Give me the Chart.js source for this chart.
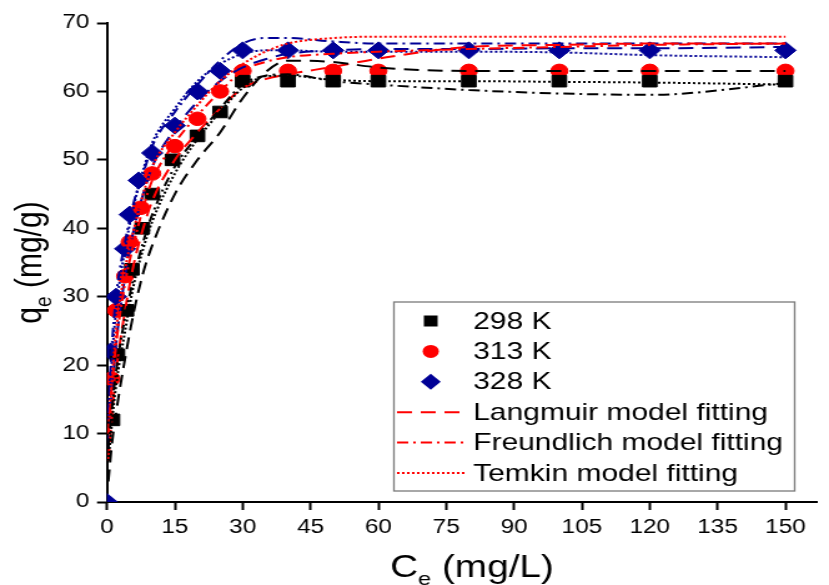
<!DOCTYPE html>
<html>
<head>
<meta charset="utf-8">
<script src="https://cdn.jsdelivr.net/npm/chart.js@4.4.0/dist/chart.umd.min.js"></script>
<style>
html,body{margin:0;padding:0;background:#fff;overflow:hidden}
#wrap{width:664px;height:585px;transform:scaleX(1.2485);transform-origin:0 0}
</style>
</head>
<body>
<div id="wrap"><canvas id="iso" width="664" height="585"></canvas></div>
<script>
const ce298 = [1.2, 2.3, 4.3, 5.5, 7.8, 10, 14.5, 20, 25, 30, 40, 50, 60, 80, 100, 120, 150];
const qe298 = [12, 21.5, 28, 34, 40, 45, 50, 53.5, 57, 61.5, 61.5, 61.5, 61.5, 61.5, 61.5, 61.5, 61.5];
const ce313 = [1, 2, 4, 5, 7.5, 10, 15, 20, 25, 30, 40, 50, 60, 80, 100, 120, 150];
const qe313 = [18, 28, 33, 38, 43, 48, 52, 56, 60, 63, 63, 63, 63, 63, 63, 63, 63];
const ce328 = [0, 0.8, 2, 4, 5, 7, 10, 15, 20, 25, 30, 40, 50, 60, 80, 100, 120, 150];
const qe328 = [0, 22, 30, 37, 42, 47, 51, 55, 60, 63, 66, 66, 66, 66, 66, 66, 66, 66];

// model fitting curves at these Ce values
const fitCe   = [0.3, 1, 2, 4, 6, 8, 10, 15, 20, 25, 30, 35, 40, 50, 60, 80, 100, 120, 150];
const lang298 = [3, 8, 13, 21, 28, 33.5, 37.5, 45, 50, 54, 59, 62.8, 64.5, 64.3, 63.5, 63, 63, 63, 63];
const freu298 = [8, 13, 19, 27, 33, 38, 42, 49, 53.5, 57.5, 61, 62.3, 62.5, 61.5, 61, 60.2, 59.7, 59.5, 61.2];
const temk298 = [6, 11, 17, 25, 32, 37, 41, 48, 53, 57, 60.5, 62.2, 62.3, 61.7, 61.5, 61.5, 61.4, 61.3, 61];
const lang313 = [6, 12, 19, 28, 35, 40, 44, 50, 54, 57.5, 60.5, 61.8, 62.5, 63.6, 64.8, 66.5, 66.8, 67, 67];
const freu313 = [10, 16, 23, 32, 38, 43, 47, 52.5, 56.5, 60, 63, 64.3, 65, 65.5, 65.8, 66.2, 66.5, 66.8, 67];
const temk313 = [10, 17, 25, 34, 40, 45, 49, 54, 58, 61.5, 64, 65.8, 67, 67.8, 68, 68, 68, 68, 68];
const lang328 = [8, 15, 23, 33, 40, 45, 49, 54.5, 58.5, 61.5, 63.5, 64.7, 65.5, 66, 66.2, 66.2, 66.3, 66.3, 66.5];
const freu328 = [13, 22, 30, 38, 44, 48, 52, 57, 61, 64.5, 67, 67.8, 67.8, 67.3, 67, 67, 67, 67, 67];
const temk328 = [12, 20, 28, 37, 43.5, 48.5, 52.5, 57.5, 61.5, 64, 65.5, 66, 66, 65.8, 65.8, 65.8, 65.7, 65.3, 65];

const xTicks = [0, 15, 30, 45, 60, 75, 90, 105, 120, 135, 150];
const yTicks = [0, 10, 20, 30, 40, 50, 60, 70];

const BLACK = '#000000', RED = '#ff0000', BLUE = '#000096';
const FONT = "'Liberation Sans', Arial, sans-serif";
const DASH = {lang:[12,7], freu:[9,4,2,4], temk:[2,2]};

const pts = (xs, ys) => xs.map((x,i)=>({x, y:ys[i]}));

function markerSet(label, xs, ys, color, style, r){
  return {label, data:pts(xs,ys), showLine:false, pointStyle:style, pointRadius:r, pointHoverRadius:r,
    backgroundColor:color, borderColor:color, borderWidth:1, order:2, clip:0};
}
function fitSet(ys, color, dash){
  return {data:pts(fitCe,ys), showLine:true, pointRadius:0, borderColor:color, borderWidth:2,
    borderDash:dash, cubicInterpolationMode:'monotone', fill:false, order:1};
}

const legendRows = [
  {text:'298 K', marker:'rect', color:BLACK},
  {text:'313 K', marker:'circle', color:RED},
  {text:'328 K', marker:'rectRot', color:BLUE},
  {text:'Langmuir model fitting', dash:DASH.lang, color:RED},
  {text:'Freundlich model fitting', dash:DASH.freu, color:RED},
  {text:'Temkin model fitting', dash:DASH.temk, color:RED}
];

function drawMarker(ctx, style, x, y, color){
  ctx.fillStyle = color;
  ctx.beginPath();
  if(style==='rect') ctx.rect(x-5.5, y-5.5, 11, 11);
  else if(style==='circle') ctx.arc(x, y, 6.5, 0, Math.PI*2);
  else { ctx.moveTo(x-8,y); ctx.lineTo(x,y-8); ctx.lineTo(x+8,y); ctx.lineTo(x,y+8); ctx.closePath(); }
  ctx.fill();
}

// text with a subscript part: main, sub, rest
function subText(ctx, x, y, main, sub, rest, size){
  ctx.font = size+'px '+FONT;
  const w1 = ctx.measureText(main).width, w3 = ctx.measureText(rest).width;
  ctx.font = Math.round(size*0.62)+'px '+FONT;
  const w2 = ctx.measureText(sub).width;
  const sx = x-(w1+w2+w3)/2;
  ctx.textAlign = 'left'; ctx.textBaseline = 'alphabetic'; ctx.fillStyle = '#000';
  ctx.font = size+'px '+FONT; ctx.fillText(main, sx, y);
  ctx.font = Math.round(size*0.62)+'px '+FONT; ctx.fillText(sub, sx+w1, y+size*0.25);
  ctx.font = size+'px '+FONT; ctx.fillText(rest, sx+w1+w2, y);
}

const extras = {
  id:'extras',
  afterDraw(chart){
    const ctx = chart.ctx, a = chart.chartArea;
    ctx.save();
    // axis titles
    subText(ctx, 378, 577, 'C', 'e', ' (mg/L)', 31);
    ctx.save();
    ctx.translate(33, (a.top+a.bottom)/2);
    ctx.rotate(-Math.PI/2);
    subText(ctx, 0, 0, 'q', 'e', ' (mg/g)', 30);
    ctx.restore();
    // legend
    const bx = 315.5, by = 302, bw = 321, bh = 189;
    ctx.fillStyle = '#fff'; ctx.fillRect(bx, by, bw, bh);
    ctx.strokeStyle = '#7a7a7a'; ctx.lineWidth = 1.3; ctx.strokeRect(bx, by, bw, bh);
    legendRows.forEach((r,i)=>{
      const y = 321 + i*30.4;
      if(r.marker) drawMarker(ctx, r.marker, 345, y, r.color);
      else {
        ctx.strokeStyle = r.color; ctx.lineWidth = 2; ctx.setLineDash(r.dash);
        ctx.beginPath(); ctx.moveTo(318, y); ctx.lineTo(374, y); ctx.stroke(); ctx.setLineDash([]);
      }
      ctx.fillStyle = '#000'; ctx.font = '24px '+FONT; ctx.textBaseline = 'middle'; ctx.textAlign = 'left';
      ctx.fillText(r.text, 379, y+1);
    });
    ctx.restore();
  }
};

const tickFont = {family:FONT, size:19.5};

new Chart(document.getElementById('iso'), {
  type:'scatter',
  data:{datasets:[
    markerSet('298 K', ce298, qe298, BLACK, 'rect', 8.2),
    markerSet('313 K', ce313, qe313, RED, 'circle', 6.8),
    markerSet('328 K', ce328, qe328, BLUE, 'rectRot', 8.5),
    fitSet(lang298, BLACK, DASH.lang), fitSet(freu298, BLACK, DASH.freu), fitSet(temk298, BLACK, DASH.temk),
    fitSet(lang313, RED, DASH.lang),   fitSet(freu313, RED, DASH.freu),   fitSet(temk313, RED, DASH.temk),
    fitSet(lang328, BLUE, DASH.lang),  fitSet(freu328, BLUE, DASH.freu),  fitSet(temk328, BLUE, DASH.temk)
  ]},
  options:{
    responsive:false, animation:false, events:[],
    layout:{padding:{left:0, top:23, right:1, bottom:0}},
    plugins:{legend:{display:false}, tooltip:{enabled:false}},
    scales:{
      x:{type:'linear', min:0, max:157,
        afterBuildTicks:s=>{ s.ticks = xTicks.map(v=>({value:v})); },
        afterFit:s=>{ s.height = 83; },
        grid:{drawOnChartArea:false, drawTicks:true, tickLength:8, tickWidth:2, tickColor:'#000'},
        border:{display:true, color:'#000', width:2},
        ticks:{color:'#000', font:tickFont, padding:6, maxRotation:0, autoSkip:false}},
      y:{type:'linear', min:0, max:70,
        afterBuildTicks:s=>{ s.ticks = yTicks.map(v=>({value:v})); },
        afterFit:s=>{ s.width = 85.7; },
        grid:{drawOnChartArea:false, drawTicks:true, tickLength:8, tickWidth:2, tickColor:'#000'},
        border:{display:true, color:'#000', width:2},
        ticks:{color:'#000', font:tickFont, padding:6}}
    }
  },
  plugins:[extras]
});
</script>
</body>
</html>
